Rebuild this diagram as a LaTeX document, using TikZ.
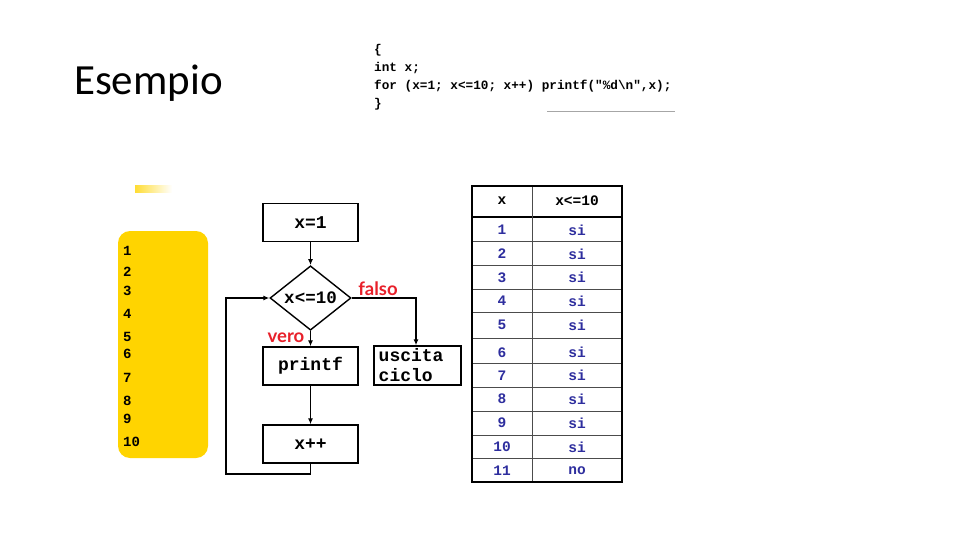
\documentclass[tikz,border=0pt]{standalone}
\usepackage{fontspec}
\setmainfont{Carlito}
\newfontfamily\monob{Liberation Mono}
\newfontfamily\comicf{Lato}
\usetikzlibrary{shapes.geometric,arrows.meta}
\definecolor{gold}{HTML}{FFD400}
\definecolor{tblue}{HTML}{2E2E9E}
\definecolor{fred}{HTML}{E8202A}
\tikzset{
  fbox/.style={draw,line width=1.4pt,minimum width=95pt,minimum height=38pt,inner sep=0pt,font=\monob\bfseries\fontsize{18}{20}\selectfont},
  fdia/.style={draw,diamond,line width=1.4pt,minimum width=81pt,minimum height=58pt,inner sep=0pt,font=\monob\bfseries\fontsize{17.5}{19}\selectfont},
  conn/.style={line width=1.2pt,-{Latex[length=6pt,width=5pt]}},
  lab/.style={text=fred,font=\comicf\bfseries\fontsize{18.5}{20}\selectfont,inner sep=0pt},
  code/.style={font=\monob\bfseries\fontsize{12.7}{14}\selectfont,anchor=west,inner sep=0pt},
  num/.style={font=\monob\bfseries\fontsize{14}{15}\selectfont,anchor=west,inner sep=0pt},
  tcell/.style={font=\monob\bfseries\fontsize{14.5}{16}\selectfont,text=tblue,inner sep=0pt},
  thead/.style={font=\monob\bfseries\fontsize{14.5}{16}\selectfont,inner sep=0pt},
}
\begin{document}
\begin{tikzpicture}[x=1pt,y=-1pt]
\useasboundingbox[fill=white] (0,0) rectangle (960,540);
% title
\node[anchor=base west,inner sep=0pt,font=\fontsize{43}{46}\selectfont] (title) at (74,95) {Esempio};
% code
\node[code] (c1) at (374,50) {\{};
\node[code] (c2) at (374,68) {int x;};
\node[code] (c3) at (374,86) {for (x=1; x<=10; x++) printf("\%d\textbackslash n",x);};
\node[code] (c4) at (374,104) {\}};
\draw[gray!70,line width=0.8pt] (547,111) -- (675,111);
% yellow panel
\shade[left color=gold!80,right color=white] (135,185) rectangle (172,192);
\fill[gold,rounded corners=12pt] (118,231) rectangle (208,458);
\foreach \n/\y in {1/251,2/272,3/291,4/314,5/337,6/354,7/378,8/401,9/419,10/442}
  \node[num] (n\n) at (123,\y) {\n};
% flowchart
\node[fbox] (init) at (310.5,222.5) {x=1};
\node[fdia] (cond) at (310.5,298) {x<=10};
\node[fbox] (pr) at (310.5,366) {printf};
\node[fbox] (inc) at (310.5,444) {x++};
\node[draw,line width=1.4pt,minimum width=87pt,minimum height=39pt,inner sep=0pt] (exit) at (417.5,365.5) {};
\node[anchor=north west,inner sep=0pt,align=left,font=\monob\bfseries\fontsize{18}{20}\selectfont] (exitt) at (378.5,348.5) {uscita\\ciclo};
\coordinate (b1) at (310.5,474);
\coordinate (b2) at (226,474);
\coordinate (b3) at (226,298);
\coordinate (f1) at (416,298);
\draw[conn] (init) -- (cond);
\draw[conn] (cond) -- (pr);
\draw[conn] (pr) -- (inc);
\draw[conn] (inc.south) -- (b1) -- (b2) -- (b3) -- (cond.west);
\draw[conn] (cond.east) -- (f1) -- (f1 |- exit.north);
\node[lab] (vero) at (286,338) {vero};
\node[lab] (falso) at (378,289) {falso};
% table
\foreach \y in {217,241.5,265.5,289,312.5,338,363,387,411.5,435,458.5}
  \draw[gray!60!black,line width=0.7pt] (472,\y) -- (622,\y);
\draw[black,line width=1.3pt] (472,217) -- (622,217);
\draw[gray!60!black,line width=1pt] (532,186) -- (532,482);
\draw[black,line width=1.5pt] (472,186) rectangle (622,482);
\node[thead] (hx) at (502,201) {x};
\node[thead] (hc) at (577,201) {x<=10};
\foreach \v/\r/\y in {1/si/230,2/si/254,3/si/277.5,4/si/301,5/si/325,6/si/352.5,7/si/375.5,8/si/399,9/si/423,10/si/447,11/no/470.5}{
  \node[tcell] (x\v) at (502,\y) {\v};
  \node[tcell] (r\v) at (577,\y) {\r};
}
\end{tikzpicture}
\end{document}
